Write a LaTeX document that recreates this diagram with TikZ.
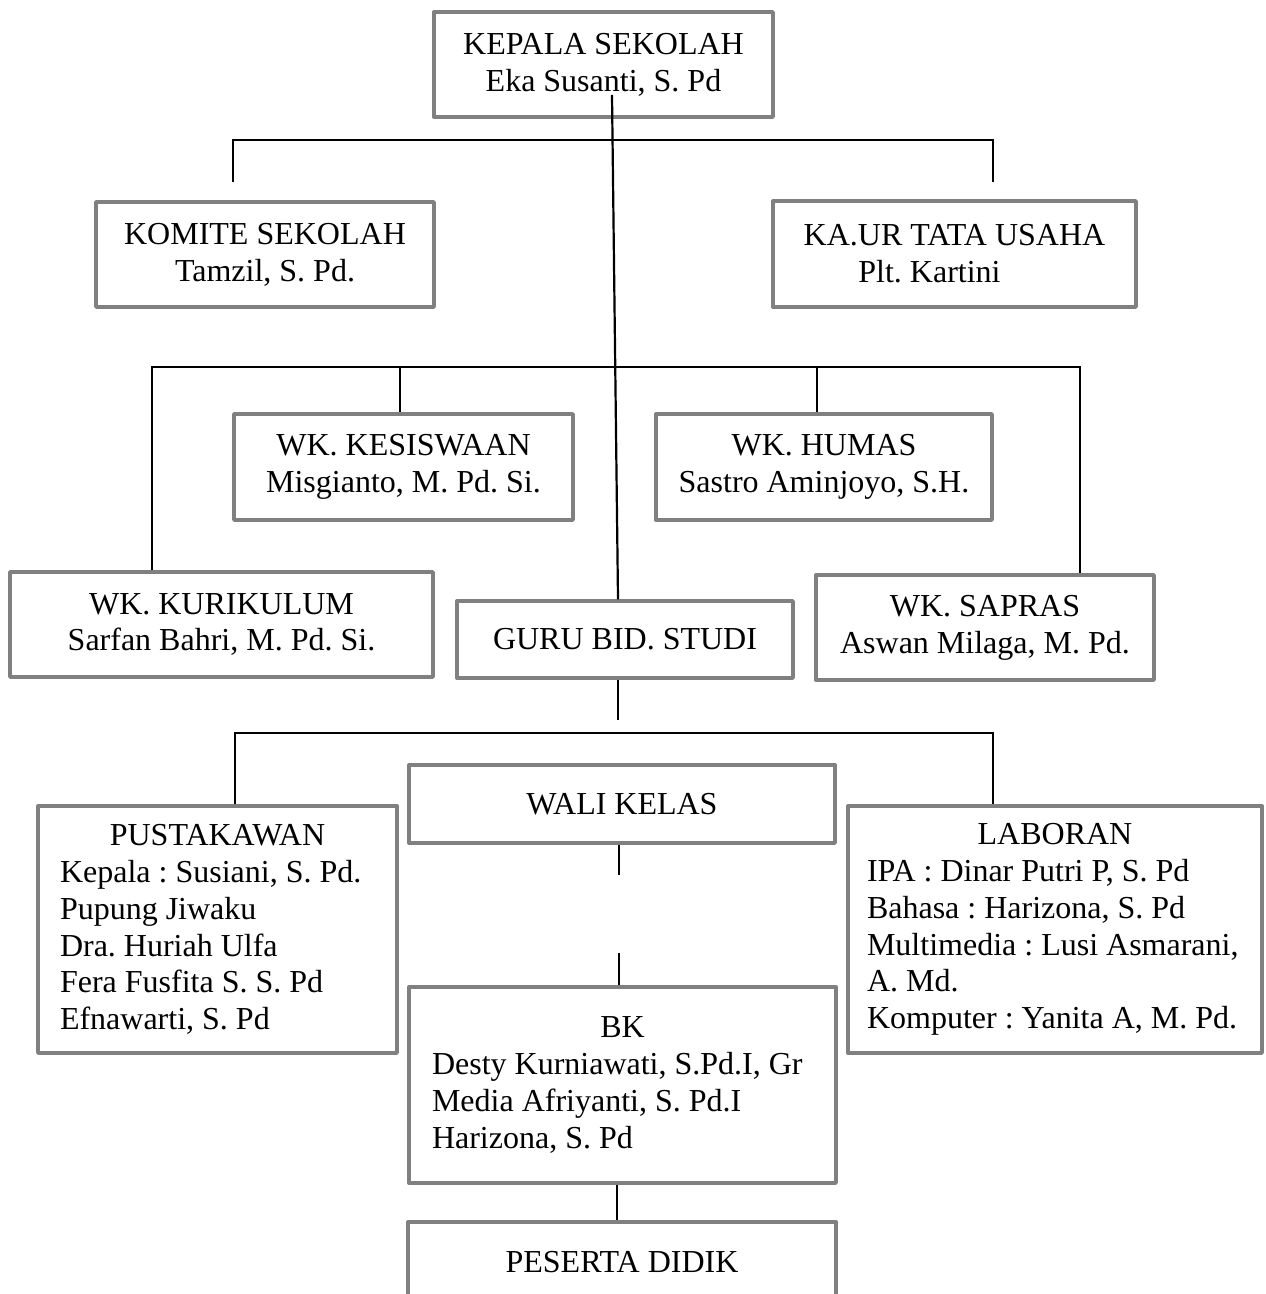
\documentclass[tikz,border=0pt]{standalone}
\usepackage{fontspec}
\setmainfont{Liberation Serif}
\definecolor{boxgray}{RGB}{128,128,128}

\begin{document}
\begin{tikzpicture}[x=0.5pt, y=-0.5pt,
        box/.style = {draw=boxgray, line width=1.7pt, line join=round, fill=white, inner sep=0pt, align=center, font=\fontsize{16}{18.4}\selectfont\frenchspacing},
        list/.style = {box, align=left},
        line/.style = {line width=1.1pt}]
    \useasboundingbox[fill=white] (0,0) rectangle (1265,1294);

    % boxes
    \node[box, minimum width=169.5pt, minimum height=52.5pt] (kepala) at (603.5,64.5) {KEPALA SEKOLAH\\Eka Susanti, S. Pd};
    \node[box, minimum width=169pt, minimum height=52.5pt] (komite) at (265,254.5) {KOMITE SEKOLAH\\Tamzil, S. Pd.};
    \node[box, minimum width=181.5pt, minimum height=53pt] (kaur) at (954.5,254) {KA.UR TATA USAHA\\Plt. Kartini\hspace*{25pt}};
    \node[box, minimum width=169.5pt, minimum height=53pt] (kesiswaan) at (403.5,467) {WK. KESISWAAN\\Misgianto, M. Pd. Si.};
    \node[box, minimum width=168pt, minimum height=53pt] (humas) at (824,467) {WK. HUMAS\\Sastro Aminjoyo, S.H.};
    \node[box, minimum width=211.5pt, minimum height=52.5pt] (kurikulum) at (221.5,624.5) {WK. KURIKULUM\\Sarfan Bahri, M. Pd. Si.};
    \node[box, minimum width=168pt, minimum height=38.5pt] (guru) at (625,639.5) {GURU BID. STUDI};
    \node[box, minimum width=169pt, minimum height=52.5pt] (sapras) at (985,627.5) {WK. SAPRAS\\Aswan Milaga, M. Pd.};
    \node[box, minimum width=213pt, minimum height=39pt] (wali) at (622,804) {WALI KELAS};
    \node[list, minimum width=179.5pt, minimum height=123.5pt] (pustaka) at (217.5,929.5)
        {\makebox[157.5pt]{PUSTAKAWAN}\\Kepala : Susiani, S. Pd.\\Pupung Jiwaku\\Dra. Huriah Ulfa\\Fera Fusfita S. S. Pd\\Efnawarti, S. Pd};
    \node[list, minimum width=207pt, minimum height=123.5pt] (laboran) at (1055,929.5)
        {\makebox[188pt]{LABORAN}\\IPA : Dinar Putri P, S. Pd\\Bahasa : Harizona, S. Pd\\Multimedia : Lusi Asmarani,\\A. Md.\\Komputer : Yanita A, M. Pd.};
    \node[list, minimum width=213.5pt, minimum height=98pt] (bk) at (622.5,1085)
        {\makebox[190.5pt]{BK}\\Desty Kurniawati, S.Pd.I, Gr\\Media Afriyanti, S. Pd.I\\Harizona, S. Pd};
    \node[box, minimum width=214pt, minimum height=40pt] (peserta) at (622,1262) {PESERTA DIDIK};

    % bus points
    \coordinate (top) at (612,95);
    \coordinate (b1l) at (233,140);
    \coordinate (b1r) at (993,140);
    \coordinate (s1l) at (233,182);
    \coordinate (s1r) at (993,182);
    \coordinate (b2l) at (152,367);
    \coordinate (b2r) at (1080,367);
    \coordinate (d2a) at (400,367);
    \coordinate (d2b) at (817,367);
    \coordinate (s3) at (618,720);
    \coordinate (b3l) at (235,733);
    \coordinate (b3r) at (993,733);
    \coordinate (s4) at (619,875);
    \coordinate (s5) at (619,953);

    \draw[line] (top) -- ([xshift=-3.5pt]guru.north);
    \draw[line] (s1l) -- (b1l) -- (b1r) -- (s1r);
    \draw[line] (b2l |- kurikulum.north) -- (b2l) -- (b2r) -- (b2r |- sapras.north);
    \draw[line] (d2a) -- (d2a |- kesiswaan.north);
    \draw[line] (d2b) -- (d2b |- humas.north);
    \draw[line] (guru.south -| s3) -- (s3);
    \draw[line] (b3l |- pustaka.north) -- (b3l) -- (b3r) -- (b3r |- laboran.north);
    \draw[line] (wali.south -| s4) -- (s4);
    \draw[line] (s5) -- (s5 |- bk.north);
    \draw[line] ([xshift=-2.75pt]bk.south) -- ([xshift=-2.5pt]peserta.north);
\end{tikzpicture}
\end{document}
